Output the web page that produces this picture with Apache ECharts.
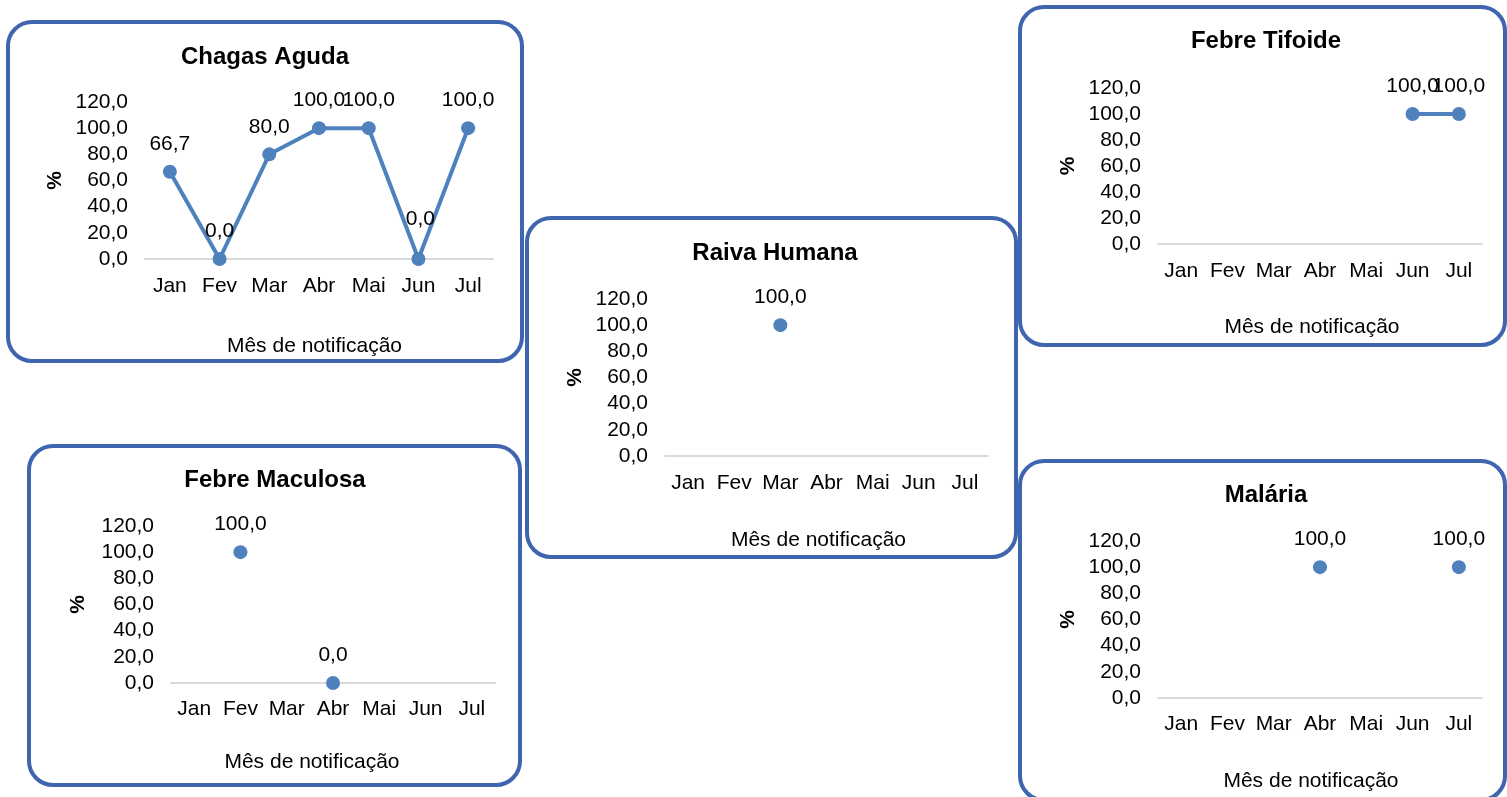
<!DOCTYPE html>
<html>
<head>
<meta charset="utf-8">
<script src="https://cdn.jsdelivr.net/npm/echarts@6/dist/echarts.min.js"></script>
<style>
html,body{margin:0;padding:0;background:#fff;}
#main{width:1507px;height:797px;}
</style>
</head>
<body>
<div id="main"></div>
<script>
// ---- data ----
var categories = ['Jan', 'Fev', 'Mar', 'Abr', 'Mai', 'Jun', 'Jul'];
var chagasAguda = [66.7, 0, 80, 100, 100, 0, 100];
var raivaHumana = [null, null, 100, null, null, null, null];
var febreTifoide = [null, null, null, null, null, 100, 100];
var febreMaculosa = [null, 100, null, 0, null, null, null];
var malaria = [null, null, null, 100, null, null, 100];
var yMin = 0, yMax = 120, yInterval = 20;
var titles = ['Chagas Aguda', 'Raiva Humana', 'Febre Tifoide', 'Febre Maculosa', 'Malária'];
var xAxisName = 'Mês de notificação';
var yAxisName = '%';

// ---- layout (positions/styles) ----
var FONT = '"Liberation Sans", Arial, sans-serif';
var BORDER = '#3e65ad';
var LINE = '#4f81bd';
var panels = [
  { data: chagasAguda,  title: titles[0], box: [8, 22, 514, 339],    grid: [145, 102, 348, 157], tx: 265,  ty: 45,  nameGap: 77, namePad: 9,  yGap: 79, xMargin: 17 },
  { data: raivaHumana,  title: titles[1], box: [527, 218, 489, 339], grid: [665, 299, 323, 157], tx: 775,  ty: 241, nameGap: 74, namePad: 16, yGap: 79, xMargin: 17 },
  { data: febreTifoide, title: titles[2], box: [1020, 7, 485, 338],  grid: [1158, 88, 324, 156], tx: 1266, ty: 29,  nameGap: 73, namePad: 16, yGap: 79, xMargin: 17 },
  { data: febreMaculosa,title: titles[3], box: [29, 446, 491, 339],  grid: [171, 526, 324, 157], tx: 275,  ty: 468, nameGap: 69, namePad: 42, yGap: 82, xMargin: 16 },
  { data: malaria,      title: titles[4], box: [1020, 461, 485, 339],grid: [1158, 541, 324, 157],tx: 1266, ty: 483, nameGap: 73, namePad: 18, yGap: 79, xMargin: 16 }
];

function fmt(v) { return (Math.round(v * 10) / 10).toFixed(1).replace('.', ','); }

var option = {
  animation: false,
  backgroundColor: '#ffffff',
  title: [], grid: [], xAxis: [], yAxis: [], series: [],
  graphic: []
};

panels.forEach(function (p, i) {
  option.graphic.push({
    type: 'rect', z: -1,
    shape: { x: p.box[0], y: p.box[1], width: p.box[2], height: p.box[3], r: 24 },
    style: { fill: '#ffffff', stroke: BORDER, lineWidth: 4 }
  });
  option.title.push({
    text: p.title, left: p.tx, top: p.ty, textAlign: 'center', padding: 0,
    textStyle: { fontFamily: FONT, fontSize: 24, fontWeight: 'bold', color: '#000', lineHeight: 24 }
  });
  option.grid.push({
    left: p.grid[0], top: p.grid[1], width: p.grid[2], height: p.grid[3],
    containLabel: false, outerBoundsMode: 'none'
  });
  option.xAxis.push({
    type: 'category', gridIndex: i, data: categories, boundaryGap: true,
    axisLine: { show: true, lineStyle: { color: '#d9d9d9', width: 2 } },
    axisTick: { show: false },
    axisLabel: { fontFamily: FONT, fontSize: 21, color: '#000', margin: p.xMargin, interval: 0 },
    splitLine: { show: false },
    name: xAxisName, nameLocation: 'middle', nameGap: p.nameGap,
    nameTextStyle: { fontFamily: FONT, fontSize: 21, color: '#000', padding: [0, p.namePad, 0, 0] }
  });
  option.yAxis.push({
    type: 'value', gridIndex: i, min: yMin, max: yMax, interval: yInterval,
    axisLine: { show: false }, axisTick: { show: false }, splitLine: { show: false },
    axisLabel: { fontFamily: FONT, fontSize: 21, color: '#000', margin: 17, formatter: function (v) { return fmt(v); } },
    name: yAxisName, nameLocation: 'middle', nameRotate: 90, nameGap: p.yGap,
    nameTextStyle: { fontFamily: FONT, fontSize: 21, fontWeight: 'bold', color: '#000' }
  });
  var seriesData = p.data.map(function (v, k) {
    if (i === 0 && k === 5) {
      return { value: v, label: { offset: [2, -12] } };
    }
    return v;
  });
  option.series.push({
    type: 'line', xAxisIndex: i, yAxisIndex: i, data: seriesData,
    connectNulls: false, showSymbol: true, showAllSymbol: true,
    symbol: 'circle', symbolSize: 14,
    itemStyle: { color: LINE },
    lineStyle: { color: LINE, width: 4 },
    label: {
      show: true, position: 'top', distance: 10,
      fontFamily: FONT, fontSize: 21, color: '#000',
      formatter: function (pr) { return fmt(pr.value); }
    },
    emphasis: { disabled: true }
  });
});

var chart = echarts.init(document.getElementById('main'), null, { renderer: 'canvas' });
chart.setOption(option);
</script>
</body>
</html>
